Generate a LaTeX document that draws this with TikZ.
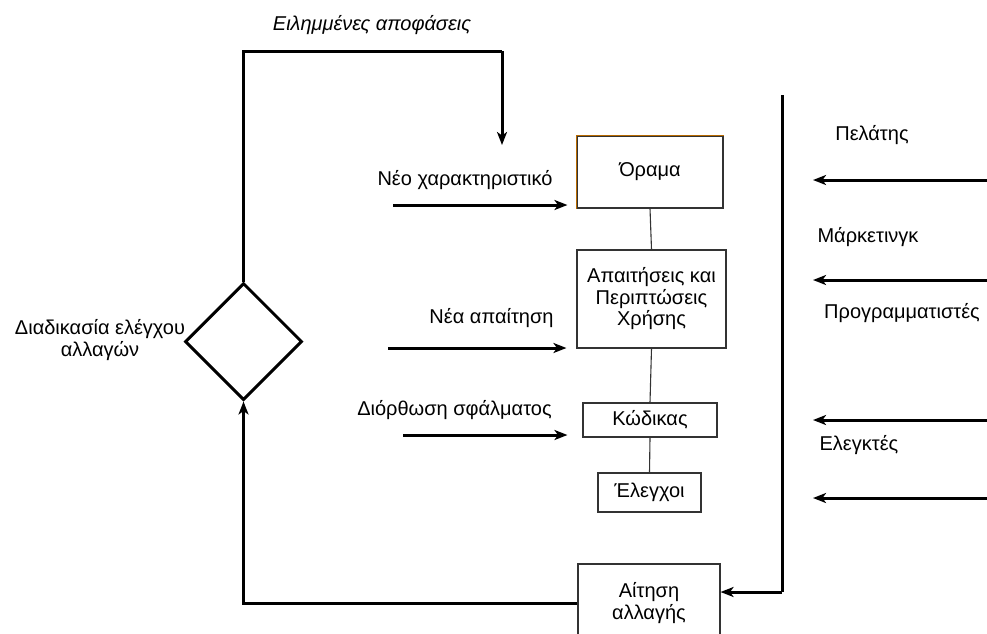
\documentclass[tikz,border=0pt]{standalone}
\usepackage{fontspec}
\setmainfont{Liberation Sans}
\usetikzlibrary{arrows.meta,shapes.geometric}
\definecolor{boxline}{HTML}{333333}
\definecolor{edgeorange}{HTML}{B86A00}
\begin{document}
\begin{tikzpicture}[x=1pt,y=-1pt,
  every node/.style={font=\fontsize{20}{21.5}\selectfont, inner sep=0pt},
  stagebox/.style={draw=boxline, line width=1.1pt, align=center},
  link/.style={draw=boxline, line width=1.1pt},
  flow/.style={line width=3pt, -{Stealth[length=13pt,width=10pt,inset=3.5pt]}},
  flowline/.style={line width=3pt},
  lbl/.style={align=center},
  decision/.style={diamond, draw, line width=3pt, minimum width=117pt, minimum height=117pt, aspect=1}
]
\useasboundingbox (0,0) rectangle (987,633);

% process stages
\node[stagebox, minimum width=146pt, minimum height=72pt] (vision) at (650,172) {Όραμα};
\node[stagebox, minimum width=149pt, minimum height=98pt] (req) at (651.5,299) {Απαιτήσεις και\\Περιπτώσεις\\Χρήσης};
\node[stagebox, minimum width=134pt, minimum height=34pt] (code) at (650,420) {Κώδικας};
\node[stagebox, minimum width=103pt, minimum height=39pt] (tests) at (649.5,492.5) {Έλεγχοι};
\node[stagebox, minimum width=142pt, minimum height=78pt] (cr) at (649,603) {Αίτηση\\αλλαγής};

% coloured edges of the first stage
\draw[edgeorange, line width=1.1pt] (vision.south west) -- (vision.north west) -- (vision.north east);

% stage links
\draw[link] (vision.south) -- (req.north);
\draw[link] (req.south) -- (code.north);
\draw[link] (code.south) -- (tests.north);

% change control decision
\node[decision] (dia) at (243.5,341.5) {};
\node[lbl] (dialbl) at (100,340) {Διαδικασία ελέγχου\\αλλαγών};

% feedback loop
\coordinate (topc) at (502,51);
\coordinate (dec) at (502,145);
\draw[flowline] (dia.north) |- (topc);
\draw[flow] (topc) -- (dec);
\node (declbl) at (372,25) {\itshape Ειλημμένες αποφάσεις};
\draw[flow] (cr.west) -| (dia.south);

% incoming changes
\coordinate (nf) at (393,205);
\coordinate (nr) at (388,348);
\coordinate (bf) at (403,435);
\draw[flow, shorten >=9pt] (nf) -- (nf -| vision.west);
\draw[flow, shorten >=10pt] (nr) -- (nr -| req.west);
\draw[flow, shorten >=15pt] (bf) -- (bf -| code.west);
\node (nflbl) at (465,180) {Νέο χαρακτηριστικό};
\node (nrlbl) at (491.5,318) {Νέα απαίτηση};
\node (bflbl) at (454.5,410) {Διόρθωση σφάλματος};

% stakeholders
\coordinate (rtop) at (782,95);
\coordinate (rbot) at (782,592);
\draw[flowline] (rtop) -- (rbot);
\draw[flow] (rbot) -- (rbot -| cr.east);

\coordinate (s1a) at (990,180);  \coordinate (s1b) at (813,180);
\coordinate (s2a) at (990,280);  \coordinate (s2b) at (813,280);
\coordinate (s3a) at (990,420);  \coordinate (s3b) at (813,420);
\coordinate (s4a) at (990,498);  \coordinate (s4b) at (813,498);
\draw[flow] (s1a) -- (s1b);
\draw[flow] (s2a) -- (s2b);
\draw[flow] (s3a) -- (s3b);
\draw[flow] (s4a) -- (s4b);
\node (cust) at (872,135) {Πελάτης};
\node (mkt) at (868,237) {Μάρκετινγκ};
\node (dev) at (902,313) {Προγραμματιστές};
\node (qa) at (859,445) {Ελεγκτές};
\end{tikzpicture}
\end{document}
